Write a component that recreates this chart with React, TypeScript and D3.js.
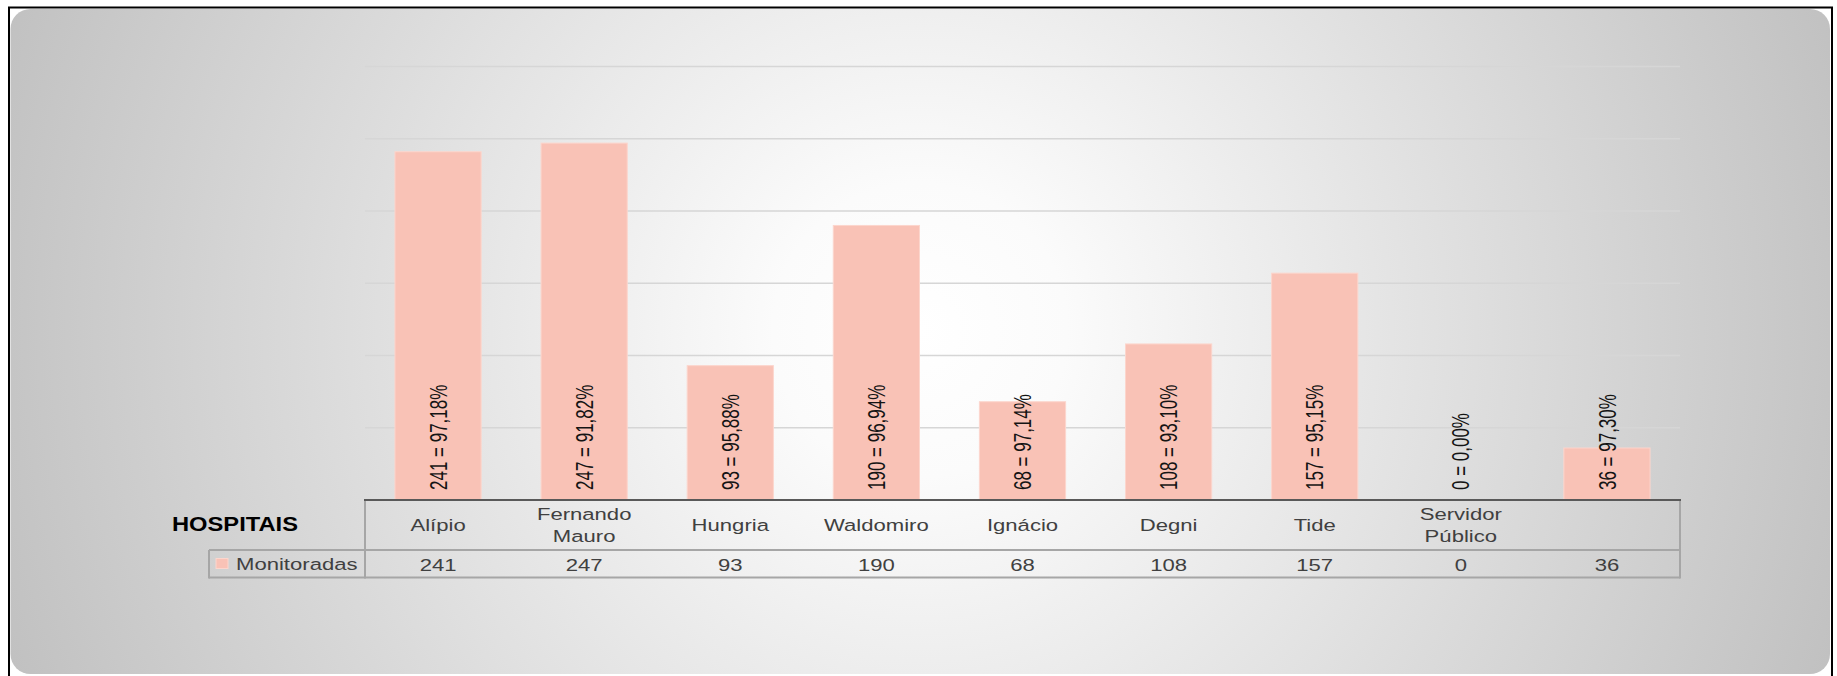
import React from "react";
import * as d3 from "d3";

const categories: string[][] = [
  ["Alípio"],
  ["Fernando", "Mauro"],
  ["Hungria"],
  ["Waldomiro"],
  ["Ignácio"],
  ["Degni"],
  ["Tide"],
  ["Servidor", "Público"],
  [""],
];
const monitoradas: number[] = [241, 247, 93, 190, 68, 108, 157, 0, 36];
const percentLabels: string[] = ["97,18%", "91,82%", "95,88%", "96,94%", "97,14%", "93,10%", "95,15%", "0,00%", "97,30%"];
const yTicks: number[] = [50, 100, 150, 200, 250, 300];
const seriesName = "Monitoradas";
const tableTitle = "HOSPITAIS";

const W = 1837;
const H = 676;
const FONT = "'Liberation Sans', Arial, sans-serif";
const SX = 1.3;
const SX_LABEL = 1.45;

export default function App() {
  const keys = categories.map((_, i) => String(i));
  const x = d3.scaleBand<string>().domain(keys).range([365, 1680]).paddingInner(0.41).paddingOuter(0.205);
  const y = d3.scaleLinear().domain([0, 300]).range([500, 66.5]);
  const center = (i: number) => (x(String(i)) as number) + x.bandwidth() / 2;
  const left = 365;
  const right = 1680;
  const axisY = y(0);
  const midY = 550;
  const botY = 577.5;
  const legendLeft = 209;

  return (
    <svg width={W} height={H} style={{ position: "absolute", left: 0, top: 0 }} fontFamily={FONT}>
      <defs>
        <radialGradient id="bg" gradientUnits="userSpaceOnUse" cx={920} cy={330} r={980}>
          <stop offset="0" stopColor="#ffffff" />
          <stop offset="0.15" stopColor="#fbfbfb" />
          <stop offset="1" stopColor="#c0c0c0" />
        </radialGradient>
      </defs>
      <rect x={0} y={0} width={W} height={H} fill="#ffffff" />
      <rect x={9} y={7.5} width={1823} height={720} fill="#ffffff" stroke="#000" strokeWidth={2} />
      <rect x={10.5} y={9} width={1819.5} height={665} rx={20} ry={20} fill="url(#bg)" />

      {/* gridlines */}
      {yTicks.map((t) => (
        <line key={t} x1={left} x2={right} y1={y(t)} y2={y(t)} stroke="#d6d6d6" strokeWidth={1.5} />
      ))}

      {/* bars */}
      {monitoradas.map((v, i) => (
        <rect
          key={i}
          x={x(String(i))}
          y={y(v)}
          width={x.bandwidth()}
          height={axisY - y(v)}
          fill="#f9c2b6"
          stroke="#fcd6cd"
          strokeWidth={1}
        />
      ))}

      {/* bar labels */}
      {monitoradas.map((v, i) => (
        <text
          key={i}
          transform={`translate(${center(i)},490) scale(${SX_LABEL},1) rotate(-90)`}
          dy="0.35em"
          fontSize={17}
          fill="#141414"
          textAnchor="start"
        >
          {`${v} = ${percentLabels[i]}`}
        </text>
      ))}

      {/* data table lines */}
      <line x1={left} x2={left} y1={axisY} y2={botY + 1} stroke="#a6a6a6" strokeWidth={2} />
      <line x1={right} x2={right} y1={axisY} y2={botY + 1} stroke="#a6a6a6" strokeWidth={2} />
      <line x1={legendLeft} x2={right} y1={midY} y2={midY} stroke="#a6a6a6" strokeWidth={2} />
      <line x1={legendLeft} x2={right} y1={botY} y2={botY} stroke="#a6a6a6" strokeWidth={2} />
      <line x1={legendLeft} x2={legendLeft} y1={midY} y2={botY + 1} stroke="#a6a6a6" strokeWidth={2} />
      <line x1={left - 1} x2={right + 1} y1={axisY} y2={axisY} stroke="#595959" strokeWidth={2} />

      {/* category labels */}
      {categories.map((lines, i) =>
        lines.map((ln, j) => {
          const cy = 525 + (j - (lines.length - 1) / 2) * 22;
          return (
            <text
              key={`${i}-${j}`}
              transform={`translate(${center(i)},${cy}) scale(${SX},1)`}
              dy="0.35em"
              fontSize={17}
              fill="#404040"
              textAnchor="middle"
            >
              {ln}
            </text>
          );
        })
      )}

      {/* values row */}
      {monitoradas.map((v, i) => (
        <text
          key={i}
          transform={`translate(${center(i)},565) scale(${SX},1)`}
          dy="0.35em"
          fontSize={17}
          fill="#404040"
          textAnchor="middle"
        >
          {v}
        </text>
      ))}

      {/* legend */}
      <rect x={216} y={558.5} width={12} height={10} fill="#f9c2b6" stroke="#fcd6cd" strokeWidth={1} />
      <text transform={`translate(236,564) scale(${SX},1)`} dy="0.35em" fontSize={17} fill="#404040">
        {seriesName}
      </text>

      {/* table title */}
      <text x={172} y={530.5} fontSize={20.5} fontWeight="bold" fill="#000" textLength={126} lengthAdjust="spacingAndGlyphs">
        {tableTitle}
      </text>
    </svg>
  );
}
